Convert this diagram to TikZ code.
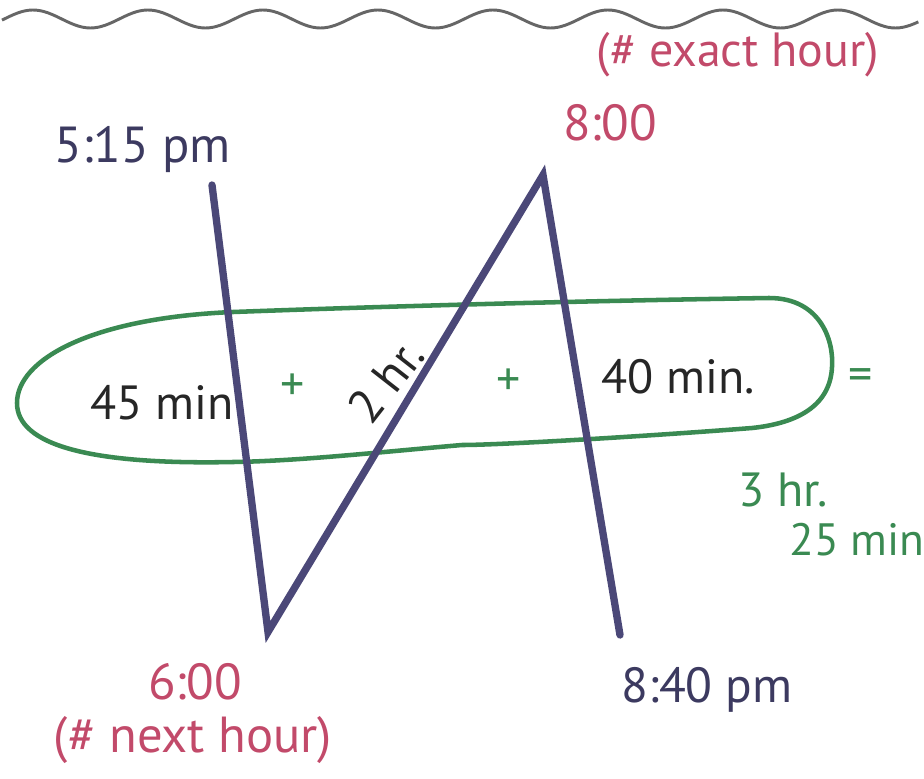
\documentclass[tikz,border=0pt]{standalone}
\usepackage{fontspec}
\setmainfont{PT Sans}
\definecolor{navy}{HTML}{4B4878}
\definecolor{grn}{HTML}{3A8A52}
\definecolor{pink}{HTML}{C24A6A}
\definecolor{wave}{HTML}{666666}
\begin{document}
\begin{tikzpicture}[x=0.75pt,y=-0.75pt,
  navyline/.style={draw=navy,line width=5.5pt,line cap=round,line join=miter},
  loop/.style={draw=grn,line width=3.4pt},
  lbl/.style={inner sep=0pt,font=\fontsize{36}{38}\selectfont},
  bluetxt/.style={lbl,text=navy!80!black},
  pinktxt/.style={lbl,text=pink},
  greentxt/.style={lbl,text=grn},
  blacktxt/.style={lbl,text=black!85}]
\useasboundingbox (0,0) rectangle (924,778);
% wavy line (parametric: t counts periods of 115 px)
\draw[wave,line width=2.2pt] plot[domain=-0.27:7.7,samples=240,smooth,variable=\t] ({33+115*\t},{19-9*cos(360*\t)});
% green loop
\draw[loop] (17,403) .. controls (17,360) and (90,318) .. (233,312)
  .. controls (450,304) and (640,300) .. (769,298)
  .. controls (820,298) and (834,340) .. (832,367)
  .. controls (830,410) and (790,424) .. (752,428)
  .. controls (650,436) and (500,445) .. (462,445)
  .. controls (380,452) and (300,461) .. (233,462)
  .. controls (90,465) and (17,445) .. (17,403);
% zigzag
\coordinate (p1) at (212,185);
\coordinate (p2) at (268,632);
\coordinate (p3) at (543,175);
\coordinate (p4) at (620,635);
\draw[navyline] (p1) -- (p2) -- (p3) -- (p4);
% labels
\node[bluetxt,font=\fontsize{38}{40}\selectfont] (t515) at (143,150) {5:15 pm};
\node[pinktxt,font=\fontsize{38}{40}\selectfont] (t800) at (610,123) {8:00};
\node[pinktxt] (exact) at (738,55) {(\# exact hour)};
\node[pinktxt,font=\fontsize{38}{40}\selectfont] (t600) at (195,682) {6:00};
\node[pinktxt,font=\fontsize{38}{40}\selectfont] (next) at (193,740) {(\# next hour)};
\node[bluetxt,font=\fontsize{37}{40}\selectfont] (t840) at (707,690) {8:40 pm};
\node[blacktxt] (m45) at (162,403) {45 min};
\node[greentxt] (plus1) at (293,387) {+};
\node[blacktxt,rotate=52] (h2) at (386,381) {2 hr.};
\node[greentxt] (plus2) at (509,382) {+};
\node[blacktxt] (m40) at (678,377) {40 min.};
\node[greentxt] (eq) at (861,380) {=};
\node[greentxt] (h3) at (783,490) {3 hr.};
\node[greentxt,font=\fontsize{34}{36}\selectfont] (m25) at (857,540) {25 min};
\end{tikzpicture}
\end{document}
